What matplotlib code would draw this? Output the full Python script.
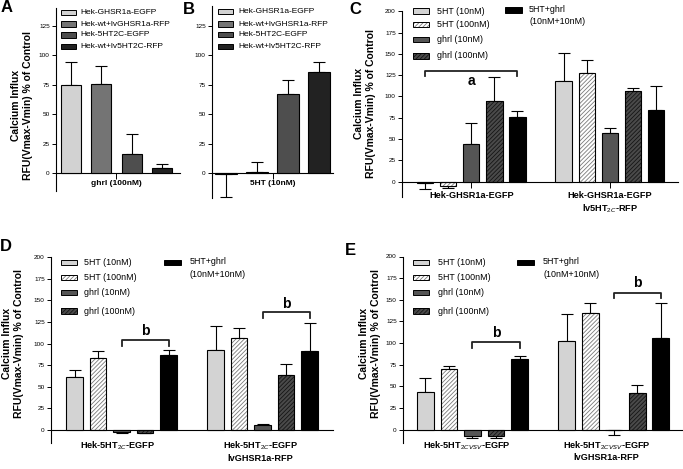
import matplotlib
matplotlib.use("Agg")
import matplotlib.pyplot as plt
from matplotlib.patches import Rectangle
from matplotlib import font_manager

names = {f.name for f in font_manager.fontManager.ttflist}
NARROW = 'Liberation Sans Narrow' in names
FAM = ['Liberation Sans Narrow', 'Liberation Sans', 'DejaVu Sans'] if NARROW else ['Liberation Sans', 'DejaVu Sans']
plt.rcParams['font.family'] = FAM
plt.rcParams['mathtext.fontset'] = 'custom'
plt.rcParams['mathtext.rm'] = FAM[0]
plt.rcParams['hatch.linewidth'] = 0.6

W, H = 683, 469

# --- data (A, B) ---
ab_labels = ['Hek-GHSR1a-EGFP', 'Hek-wt+lvGHSR1a-RFP', 'Hek-5HT2C-EGFP', 'Hek-wt+lv5HT2C-RFP']
ab_colors = ['#d2d2d2', '#747474', '#4e4e4e', '#222222']
a_mean = [75, 76, 16, 4]
a_sem = [19, 15, 17, 4]
b_mean = [-1, 1, 67, 86]
b_sem = [19, 8, 12, 8]

# --- data (C, D, E): two cell groups x five treatments ---
treatments = ['5HT (10nM)', '5HT (100nM)', 'ghrl (10nM)', 'ghrl (100nM)', '5HT+ghrl\n(10nM+10nM)']
c_groups = ['Hek-GHSR1a-EGFP', 'Hek-GHSR1a-EGFP\nlv5HT$_{2C}$-RFP']
c_mean = [[-2, -5, 44, 95, 76.5], [118, 128, 57, 107, 84]]
c_sem = [[7, 3, 25, 28, 6], [33, 15, 6, 3, 28]]
d_groups = ['Hek-5HT$_{2C}$-EGFP', 'Hek-5HT$_{2C}$-EGFP\nlvGHSR1a-RFP']
d_mean = [[61, 83, -2, -3, 86.5], [92, 106, 6, 64, 91.5]]
d_sem = [[8, 8.5, 1, 1, 6.5], [28, 12.5, 0.5, 12, 32.5]]
e_groups = ['Hek-5HT$_{2CVSV}$-EGFP', 'Hek-5HT$_{2CVSV}$-EGFP\nlvGHSR1a-RFP']
e_mean = [[43, 70, -8, -8, 82], [102, 134.5, -1, 42, 106]]
e_sem = [[17, 3, 2, 2, 3], [32, 12, 5, 10, 40]]

# face, hatch, hatch colour
styles = [('#d3d3d3', None, None), ('white', '////////', '#7a7a7a'),
          ('#555555', None, None), ('#4a4a4a', '////////', '#151515'),
          ('#000000', None, None)]

ylab = 'Calcium Influx\nRFU(Vmax-Vmin) % of Control'
FS_LEG = 6.8 if NARROW else 6.0
FS_TICK = 5.2 if NARROW else 4.6
FS_GRP = 7.5 if NARROW else 6.6

fig = plt.figure(figsize=(W / 100, H / 100), dpi=100)


def px_axes(x0, x1, ytop, ybot):
    return fig.add_axes([x0 / W, 1 - ybot / H, (x1 - x0) / W, (ybot - ytop) / H])


def ftext(x, y, s, **kw):
    fig.text(x / W, 1 - y / H, s, **kw)


def fbox(x0, x1, yc, face, hatch=None, hcol=None, h=5.5):
    xy = (x0 / W, 1 - (yc + h / 2) / H)
    if hatch:
        fig.add_artist(Rectangle(xy, (x1 - x0) / W, h / H, transform=fig.transFigure,
                                 facecolor=face, edgecolor=hcol, hatch=hatch, lw=0))
        face = 'none'
    fig.add_artist(Rectangle(xy, (x1 - x0) / W, h / H, transform=fig.transFigure,
                             facecolor=face, edgecolor='black', lw=0.7))


def setup(ax, xlim, ylim, yticks):
    ax.set_xlim(xlim)
    ax.set_ylim(ylim)
    for s in ['top', 'right']:
        ax.spines[s].set_visible(False)
    ax.spines['bottom'].set_position(('data', 0))
    for s in ['left', 'bottom']:
        ax.spines[s].set_linewidth(0.8)
    ax.set_yticks(yticks)
    ax.tick_params(axis='y', labelsize=FS_TICK, length=3, width=0.7, pad=1.5)
    ax.tick_params(axis='x', length=4, width=0.7, labelbottom=False)
    ax.set_xticks([])


def bars(ax, xs, means, sems, faces, hatches, hcols, width):
    for x, m, s, f, ht, hc in zip(xs, means, sems, faces, hatches, hcols):
        if ht:
            ax.bar(x, m, width, color=f, edgecolor=hc, hatch=ht, lw=0, zorder=2)
            f = 'none'
        ax.bar(x, m, width, facecolor=f, edgecolor='black', lw=0.8, zorder=3)
        yerr = [[0], [s]] if m >= 0 else [[s], [0]]
        ax.errorbar(x, m, yerr=yerr, fmt='none', ecolor='black', elinewidth=0.8,
                    capsize=4, capthick=0.8, zorder=1)


def bracket(ax, x0, x1, y, drop, label, ly):
    ax.plot([x0, x0, x1, x1], [y - drop, y, y, y - drop], color='#222222', lw=1.3, zorder=4)
    ax.text((x0 + x1) / 2, ly, label, ha='center', va='center', fontsize=10, fontweight='bold')


def group_labels(ax, centers, labels):
    for c, lab in zip(centers, labels):
        ax.annotate(lab, xy=(c, 0), xytext=(0, -7), textcoords='offset points',
                    ha='center', va='top', fontsize=FS_GRP, fontweight='bold',
                    multialignment='center', linespacing=1.2, annotation_clip=False)


# ---------------- A ----------------
axA = px_axes(56, 180, 8.4, 190.6)
setup(axA, (-0.5, 3.6), (-15, 140), [0, 25, 50, 75, 100, 125])
bars(axA, range(4), a_mean, a_sem, ab_colors, [None] * 4, [None] * 4, 0.66)
axA.set_xticks([1.5])
axA.annotate('ghrl (100nM)', xy=(1.5, 0), xytext=(0, -5), textcoords='offset points',
             ha='center', va='top', fontsize=FS_GRP - 0.6, fontweight='bold')

# ---------------- B ----------------
axB = px_axes(212, 333, 6, 197.7)
setup(axB, (-0.45, 3.45), (-21, 142), [0, 25, 50, 75, 100, 125])
bars(axB, range(4), b_mean, b_sem, ab_colors, [None] * 4, [None] * 4, 0.68)
axB.set_xticks([1.5])
axB.annotate('5HT (10nM)', xy=(1.5, 0), xytext=(0, -5), textcoords='offset points',
             ha='center', va='top', fontsize=FS_GRP - 0.6, fontweight='bold')

for bx, tx, rows in [(61, 80, [12.7, 24, 35, 46.7]), (218, 238, [11.7, 24, 34.3, 46.7])]:
    for lab, col, yc in zip(ab_labels, ab_colors, rows):
        fbox(bx, bx + 15, yc, col)
        ftext(tx, yc, lab, fontsize=FS_LEG, va='center', ha='left')

# ---------------- C, D, E ----------------
faces = [s[0] for s in styles]
hatches = [s[1] for s in styles]
hcols = [s[2] for s in styles]
pos = [[0, 1, 2, 3, 4], [6, 7, 8, 9, 10]]
yt = list(range(0, 201, 25))

axC = px_axes(402, 678, 11.3, 197)
setup(axC, (-1, 10.95), (-18, 200), yt)
axD = px_axes(51, 333, 257, 443)
setup(axD, (-1, 11), (-15, 200), yt)
axE = px_axes(403, 682, 256.5, 442.5)
setup(axE, (-0.95, 10.9), (-15, 200), yt)

for ax, means, sems in [(axC, c_mean, c_sem), (axD, d_mean, d_sem), (axE, e_mean, e_sem)]:
    for g in range(2):
        bars(ax, pos[g], means[g], sems[g], faces, hatches, hcols, 0.71)

axC.set_xticks([2, 8])
group_labels(axC, [2, 8], c_groups)
group_labels(axD, [1.85, 7.9], d_groups)
group_labels(axE, [1.75, 7.7], e_groups)

bracket(axC, 0, 4, 130, 6, 'a', 118)
bracket(axD, 2, 4, 104, 7, 'b', 114)
bracket(axD, 8, 10, 136, 7, 'b', 146)
bracket(axE, 2, 4, 101, 7, 'b', 111)
bracket(axE, 8, 10, 158, 6, 'b', 169)

legs = [(413, 437, [11, 24.3, 39.3, 56], 505, 529, 10),
        (61, 84, [262.5, 277.7, 292.7, 311], 164, 190, 262.5),
        (413, 438, [262.5, 277.7, 292.7, 311], 517, 543, 262.5)]
for bx, tx, rows, kbx, ktx, ky in legs:
    for i in range(4):
        fbox(bx, bx + 16, rows[i], faces[i], hatches[i], hcols[i])
        ftext(tx, rows[i], treatments[i], fontsize=FS_LEG + 0.4, va='center', ha='left')
    fbox(kbx, kbx + 17, ky, faces[4])
    ftext(ktx, ky - 5, treatments[4], fontsize=FS_LEG + 0.4, va='top', ha='left', linespacing=1.5)

# y labels and panel letters
for x, y in [(22, 105), (365, 103), (13, 343), (370, 343)]:
    ftext(x, y, ylab, rotation=90, ha='center', va='center', fontsize=7.5,
          fontweight='bold', multialignment='center', linespacing=1.3)
for x, y, letter in [(7, 8, 'A'), (189, 9, 'B'), (355, 10, 'C'), (6, 246, 'D'), (350, 250, 'E')]:
    ftext(x, y, letter, fontsize=12, fontweight='bold', ha='center', va='center', family='Liberation Sans')

fig.savefig('out.png', dpi=100)
